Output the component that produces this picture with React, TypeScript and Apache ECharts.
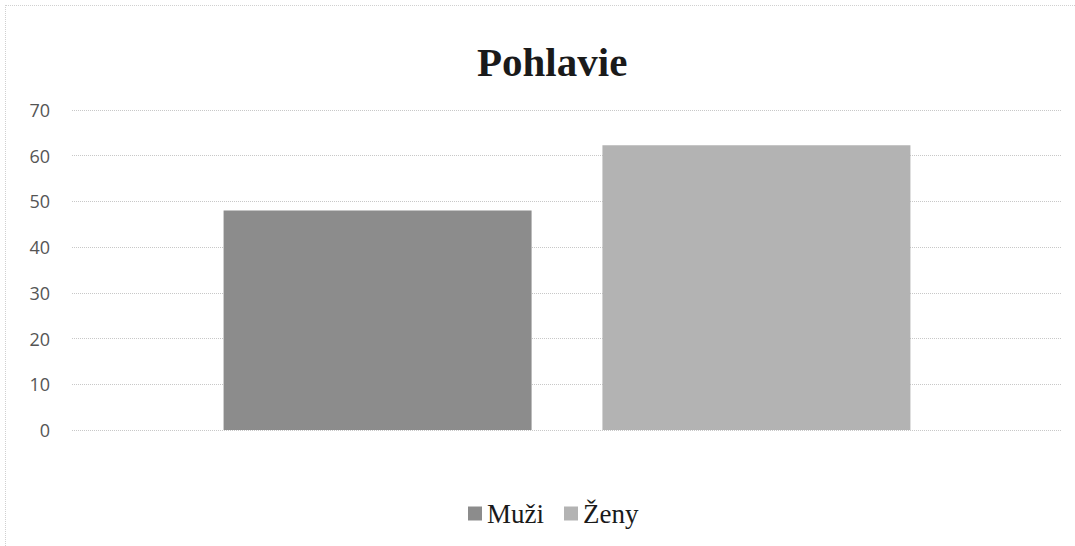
import React, { useEffect, useRef } from "react";
import * as echarts from "echarts";

const categories = [""];
const seriesNames = ["Muži", "Ženy"];
const muzi = [48];
const zeny = [62.3];
const yTicks = { min: 0, max: 70, interval: 10 };

export default function App() {
  const ref = useRef<HTMLDivElement>(null);
  useEffect(() => {
    const chart = echarts.init(ref.current!, null, { renderer: "svg" });
    chart.setOption({
      animation: false,
      backgroundColor: "#ffffff",
      title: {
        text: "Pohlavie",
        left: 472,
        top: 36,
        textStyle: { fontFamily: "Liberation Serif", fontWeight: "bold", fontSize: 41, color: "#1a1a1a" },
      },
      legend: {
        data: seriesNames,
        bottom: 14,
        left: 463,
        icon: "rect",
        itemWidth: 14,
        itemHeight: 14,
        itemGap: 20,
        textStyle: { fontFamily: "Liberation Serif", fontSize: 27, color: "#1a1a1a" },
      },
      grid: { left: 72, right: 13, top: 110, bottom: 116, containLabel: false },
      xAxis: {
        type: "category",
        data: categories,
        axisLine: { show: false },
        axisTick: { show: false },
        axisLabel: { show: false },
      },
      yAxis: {
        type: "value",
        min: yTicks.min,
        max: yTicks.max,
        interval: yTicks.interval,
        axisLine: { show: false },
        axisTick: { show: false },
        axisLabel: { fontFamily: "Open Sans", fontSize: 18, color: "#555555", margin: 22 },
        splitLine: { lineStyle: { color: "#c8c8c8", type: "dotted", width: 1 } },
      },
      series: [
        {
          name: seriesNames[0],
          type: "bar",
          data: muzi,
          barWidth: 308,
          barGap: "23%",
          itemStyle: { color: "#8c8c8c" },
        },
        {
          name: seriesNames[1],
          type: "bar",
          data: zeny,
          barWidth: 308,
          itemStyle: { color: "#b3b3b3" },
        },
      ],
    });
    return () => chart.dispose();
  }, []);
  return (
    <div style={{ position: "absolute", left: 0, top: 0, width: 1075, height: 546 }}>
      <div
        style={{
          position: "absolute",
          left: 5,
          top: 5,
          width: 1075,
          height: 546,
          borderTop: "1px dotted #d0d0d0",
          borderLeft: "1px dotted #d0d0d0",
          pointerEvents: "none",
          zIndex: 2,
        }}
      />
      <div ref={ref} style={{ width: 1075, height: 546 }} />
    </div>
  );
}
